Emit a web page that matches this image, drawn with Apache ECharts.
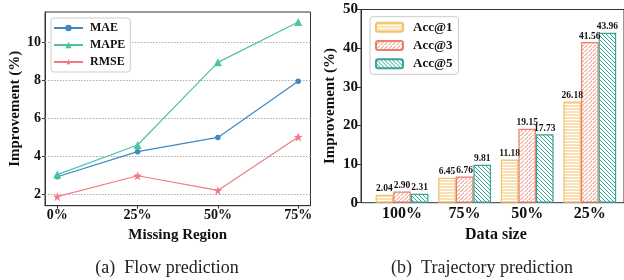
<!DOCTYPE html>
<html>
<head>
<meta charset="utf-8">
<script src="https://cdn.jsdelivr.net/npm/echarts@6/dist/echarts.min.js"></script>
<style>
  html, body { margin: 0; padding: 0; background: #fff; }
  #main { width: 624px; height: 280px; }
</style>
</head>
<body>
<div id="main"></div>
<script>
// (a) flow prediction
var regionCats = ['0%', '25%', '50%', '75%'];
var maeVals = [2.91, 4.23, 4.98, 7.93];
var mapeVals = [3.02, 4.58, 8.93, 11.05];
var rmseVals = [1.86, 2.96, 2.19, 5.00];
var leftTicks = [2, 4, 6, 8, 10];

// (b) trajectory prediction
var sizeCats = ['100%', '75%', '50%', '25%'];
var acc1Vals = [2.04, 6.45, 11.18, 26.18];
var acc3Vals = [2.90, 6.76, 19.15, 41.56];
var acc5Vals = [2.31, 9.81, 17.73, 43.96];

var FONT = 'Liberation Serif';

// hatch fill like matplotlib's '-', '/', '\'
function hatch(color, kind) {
  var s = kind === '-' ? 3.2 : 4.5;
  var c = document.createElement('canvas');
  c.width = kind === '-' ? 8 : s; c.height = s;
  var g = c.getContext('2d');
  g.fillStyle = '#fff';
  g.fillRect(0, 0, c.width, c.height);
  g.strokeStyle = color;
  g.lineWidth = 1;
  g.beginPath();
  if (kind === '-') {
    g.moveTo(0, 1); g.lineTo(c.width, 1);
  } else if (kind === '/') {
    g.moveTo(-1, s + 1); g.lineTo(s + 1, -1);
    g.moveTo(-1, 1); g.lineTo(1, -1);
    g.moveTo(s - 1, s + 1); g.lineTo(s + 1, s - 1);
  } else {
    g.moveTo(-1, -1); g.lineTo(s + 1, s + 1);
    g.moveTo(-1, s - 1); g.lineTo(1, s + 1);
    g.moveTo(s - 1, -1); g.lineTo(s + 1, 1);
  }
  g.stroke();
  return { image: c, repeat: 'repeat' };
}

function pts(arr) {
  return arr.map(function (v, i) { return [i, v]; });
}

var myChart = echarts.init(document.getElementById('main'));

var barLabel = {
  show: true,
  position: 'top',
  distance: 1,
  fontFamily: FONT,
  fontWeight: 'bold',
  fontSize: 9.5,
  color: '#111',
  formatter: function (p) { return p.value.toFixed(2); }
};

function barSeries(name, vals, color, kind) {
  return {
    name: name,
    type: 'bar',
    xAxisIndex: 1,
    yAxisIndex: 1,
    barWidth: 17.6,
    barGap: '0%',
    data: vals,
    itemStyle: { color: hatch(color, kind), borderColor: color, borderWidth: 1.2 },
    label: barLabel
  };
}

function lineSeries(name, vals, color, symbol, size) {
  return {
    name: name,
    type: 'line',
    xAxisIndex: 0,
    yAxisIndex: 0,
    data: pts(vals),
    symbol: symbol,
    symbolSize: size,
    clip: false,
    lineStyle: { color: color, width: 1.2 },
    itemStyle: { color: color }
  };
}

var tickFont = { fontFamily: FONT, fontWeight: 'bold', color: '#111' };

var option = {
  animation: false,
  textStyle: { fontFamily: FONT },
  title: [
    { text: '(a)  Flow prediction', left: 162, top: 254, textAlign: 'center',
      textStyle: { fontFamily: FONT, fontWeight: 'normal', fontSize: 18, color: '#222' } },
    { text: '(b)  Trajectory prediction', left: 477, top: 254, textAlign: 'center',
      textStyle: { fontFamily: FONT, fontWeight: 'normal', fontSize: 18, color: '#222' } }
  ],
  grid: [
    { left: 45, top: 12, width: 265.5, height: 193.7, show: true, borderColor: '#333', borderWidth: 1 },
    { left: 370.7, top: 9.5, width: 250.4, height: 193.2 },
    { left: 361, top: 9.5, width: 266, height: 193.2, show: true, borderColor: '#333', borderWidth: 1 }
  ],
  legend: [
    {
      data: ['MAE', 'MAPE', 'RMSE'],
      orient: 'vertical', left: 51, top: 18,
      itemWidth: 29, itemHeight: 8, itemGap: 5,
      padding: [4, 5, 4, 2],
      borderColor: '#ccc', borderWidth: 1, borderRadius: 3, backgroundColor: '#fff',
      textStyle: { fontFamily: FONT, fontWeight: 'bold', fontSize: 12, color: '#111', padding: [0, 0, 0, 2] }
    },
    {
      data: ['Acc@1', 'Acc@3', 'Acc@5'],
      orient: 'vertical', left: 370, top: 16.7,
      itemWidth: 27, itemHeight: 9, itemGap: 5.3,
      padding: [4, 6, 4, 5],
      borderColor: '#ccc', borderWidth: 1, borderRadius: 3, backgroundColor: '#fff',
      textStyle: { fontFamily: FONT, fontWeight: 'bold', fontSize: 13, color: '#111', padding: [0, 0, 0, 5] }
    }
  ],
  xAxis: [
    {
      gridIndex: 0, type: 'value', min: -0.153, max: 3.153,
      name: 'Missing Region', nameLocation: 'middle', nameGap: 19,
      nameTextStyle: { fontFamily: FONT, fontWeight: 'bold', fontSize: 15, color: '#111' },
      axisLine: { onZero: false, lineStyle: { color: '#333' } },
      axisTick: { customValues: [0, 1, 2, 3], length: 3, lineStyle: { color: '#333' } },
      axisLabel: Object.assign({ customValues: [0, 1, 2, 3], fontSize: 14, margin: 3,
        formatter: function (v) { return regionCats[Math.round(v)]; } }, tickFont),
      splitLine: { show: false }
    },
    {
      gridIndex: 1, type: 'category', data: sizeCats,
      name: 'Data size', nameLocation: 'middle', nameGap: 19,
      nameTextStyle: { fontFamily: FONT, fontWeight: 'bold', fontSize: 16, color: '#111' },
      axisLine: { show: false },
      axisTick: { show: false },
      axisLabel: Object.assign({ fontSize: 16, margin: 3 }, tickFont)
    },
    { gridIndex: 2, type: 'value', show: false }
  ],
  yAxis: [
    {
      gridIndex: 0, type: 'value', min: 1.384, max: 11.58,
      name: 'Improvement (%)', nameLocation: 'middle', nameGap: 22,
      nameTextStyle: { fontFamily: FONT, fontWeight: 'bold', fontSize: 15, color: '#111' },
      axisLine: { onZero: false, lineStyle: { color: '#333' } },
      axisTick: { customValues: leftTicks, length: 3, lineStyle: { color: '#333' } },
      axisLabel: Object.assign({ customValues: leftTicks, fontSize: 14, margin: 4 }, tickFont),
      splitLine: { show: false }
    },
    {
      gridIndex: 1, type: 'value', min: 0, max: 50, interval: 10, offset: 9.7,
      name: 'Improvement (%)', nameLocation: 'middle', nameGap: 23,
      nameTextStyle: { fontFamily: FONT, fontWeight: 'bold', fontSize: 15, color: '#111' },
      axisLine: { show: true, onZero: false, lineStyle: { color: '#333' } },
      axisTick: { show: true, length: 4, lineStyle: { color: '#333' } },
      axisLabel: Object.assign({ fontSize: 15, margin: 3 }, tickFont),
      splitLine: { show: false }
    },
    { gridIndex: 2, type: 'value', show: false }
  ],
  series: [
    Object.assign(lineSeries('MAE', maeVals, '#3e88c4', 'circle', 5.5), {
      markLine: {
        silent: true, symbol: 'none', z: 1,
        label: { show: false },
        lineStyle: { type: [1.5, 1.5], color: '#aaa', width: 1 },
        data: leftTicks.map(function (v) { return { yAxis: v }; })
      }
    }),
    lineSeries('MAPE', mapeVals, '#4cc4a4', 'triangle', 8),
    lineSeries('RMSE', rmseVals, '#f27b85', 'path://M0,-10L2.35,-3.24L9.51,-3.09L3.8,1.24L5.88,8.09L0,4L-5.88,8.09L-3.8,1.24L-9.51,-3.09L-2.35,-3.24Z', 9),
    barSeries('Acc@1', acc1Vals, '#f2c26a', '-'),
    barSeries('Acc@3', acc3Vals, '#e8806a', '/'),
    barSeries('Acc@5', acc5Vals, '#36a595', '\\')
  ]
};

myChart.setOption(option);
</script>
</body>
</html>
